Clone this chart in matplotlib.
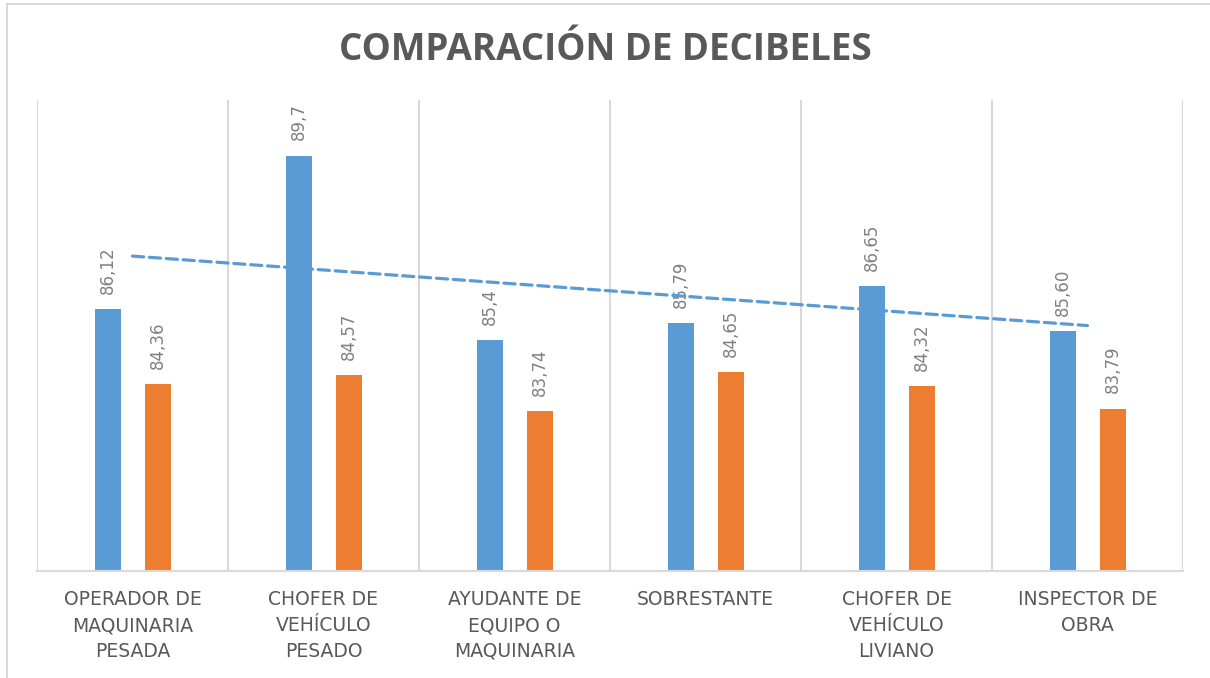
import numpy as np
import matplotlib.pyplot as plt
from matplotlib.patches import Rectangle

categorias = ["OPERADOR DE\nMAQUINARIA\nPESADA", "CHOFER DE\nVEHÍCULO\nPESADO",
              "AYUDANTE DE\nEQUIPO O\nMAQUINARIA", "SOBRESTANTE",
              "CHOFER DE\nVEHÍCULO\nLIVIANO", "INSPECTOR DE\nOBRA"]
serie1 = [86.12, 89.7, 85.4, 85.79, 86.65, 85.60]
serie2 = [84.36, 84.57, 83.74, 84.65, 84.32, 83.79]
etiq1 = ["86,12", "89,7", "85,4", "85,79", "86,65", "85,60"]
etiq2 = ["84,36", "84,57", "83,74", "84,65", "84,32", "83,79"]

azul = "#5b9bd5"
naranja = "#ed7d31"
gris = "#d9d9d9"

fig = plt.figure(figsize=(12.1, 6.78), dpi=100)
ax = fig.add_axes([37 / 1210, 107 / 678, 1146 / 1210, 471 / 678])

x = np.arange(len(categorias))
ancho = 0.136
ax.bar(x - 0.128, serie1, ancho, color=azul, zorder=2)
ax.bar(x + 0.133, serie2, ancho, color=naranja, zorder=2)

for xi, v, t in zip(x - 0.128, serie1, etiq1):
    ax.annotate(t, (xi, v), xytext=(0, 11), textcoords="offset points",
                rotation=90, ha="center", va="bottom", fontsize=12, color="#808080")
for xi, v, t in zip(x + 0.133, serie2, etiq2):
    ax.annotate(t, (xi, v), xytext=(0, 11), textcoords="offset points",
                rotation=90, ha="center", va="bottom", fontsize=12, color="#808080")

# linea de tendencia lineal sobre la serie azul
m, b = np.polyfit(x, serie1, 1)
ax.plot(x, m * x + b, color=azul, lw=2.3, ls=(0, (3.5, 1.8)), zorder=3,
        dash_capstyle="round")

ax.set_ylim(80, 91)
ax.set_xlim(-0.5, len(categorias) - 0.5)
for xv in np.arange(-0.5, len(categorias), 1):
    ax.axvline(xv, color=gris, lw=1.5, zorder=1)

ax.set_yticks([])
ax.set_xticks(x)
ax.set_xticklabels(categorias, fontsize=13.5, color="#595959", linespacing=1.45)
ax.tick_params(axis="x", length=0, pad=14)
for s in ["top", "right", "left"]:
    ax.spines[s].set_visible(False)
ax.spines["bottom"].set_color(gris)
ax.spines["bottom"].set_linewidth(1.5)

fig.text(0.5, 1 - 50 / 678, "COMPARACIÓN DE DECIBELES", ha="center", va="center",
         fontsize=26.5, fontweight="bold", color="#595959", family="Open Sans")

fig.patches.append(Rectangle((7 / 1210, -0.1), 1.2, 1 - 4 / 678 + 0.1,
                             transform=fig.transFigure, fill=False,
                             edgecolor=gris, lw=1.5))

fig.savefig("out.png", dpi=100)
